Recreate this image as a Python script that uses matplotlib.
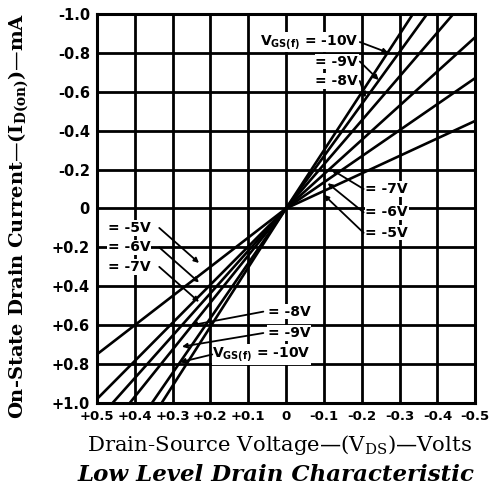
import numpy as np
import matplotlib.pyplot as plt

# gate voltages of the curves
vgs_labels = ['-5V', '-6V', '-7V', '-8V', '-9V', '-10V']
# drain current (mA) read at the frame edges, extended to V_DS = -0.5 and +0.5
i_at_neg = [-0.45, -0.67, -0.88, -1.13, -1.34, -1.49]
i_at_pos = [0.75, 0.98, 1.09, 1.21, 1.41, 1.52]

x_ticks = [0.5, 0.4, 0.3, 0.2, 0.1, 0, -0.1, -0.2, -0.3, -0.4, -0.5]
x_tick_labels = ['+0.5', '+0.4', '+0.3', '+0.2', '+0.1', '0',
                 '-0.1', '-0.2', '-0.3', '-0.4', '-0.5']
y_ticks = [-1.0, -0.8, -0.6, -0.4, -0.2, 0, 0.2, 0.4, 0.6, 0.8, 1.0]
y_tick_labels = ['-1.0', '-0.8', '-0.6', '-0.4', '-0.2', '0',
                 '+0.2', '+0.4', '+0.6', '+0.8', '+1.0']


def draw_curves(ax):
    for i_neg, i_pos in zip(i_at_neg, i_at_pos):
        ax.plot([0.5, 0, -0.5], [i_pos, 0, i_neg], color='black', lw=1.9,
                solid_capstyle='butt')


def draw_labels(ax):
    txt = dict(fontsize=10, fontweight='bold', color='black', family='DejaVu Sans')
    arrow = dict(arrowstyle='-|>', lw=1.3, color='black', mutation_scale=7,
                 shrinkA=0, shrinkB=0)

    # upper right group
    upper = [('$\\mathregular{V_{GS(f)}}$ = -10V', -0.855, -0.27, -0.80),
             ('= -9V', -0.755, -0.245, -0.66),
             ('= -8V', -0.655, -0.21, -0.57)]
    for text, y, ax_x, ax_y in upper:
        ax.text(-0.19, y, text, ha='right', va='center', **txt,
                bbox=dict(fc='white', ec='none', pad=0.5))
        ax.annotate('', xy=(ax_x, ax_y), xytext=(-0.195, y), arrowprops=arrow)

    # right group
    right = [('= -7V', -0.10, -0.12, -0.20),
             ('= -6V', 0.02, -0.11, -0.13),
             ('= -5V', 0.125, -0.10, -0.07)]
    for text, y, ax_x, ax_y in right:
        ax.text(-0.21, y, text, ha='left', va='center', **txt,
                bbox=dict(fc='white', ec='none', pad=0.5))
        ax.annotate('', xy=(ax_x, ax_y), xytext=(-0.205, y), arrowprops=arrow)

    # left group
    left = [('= -5V', 0.10, 0.23, 0.28),
            ('= -6V', 0.20, 0.23, 0.38),
            ('= -7V', 0.30, 0.23, 0.48)]
    for text, y, ax_x, ax_y in left:
        ax.text(0.47, y, text, ha='left', va='center', **txt,
                bbox=dict(fc='white', ec='none', pad=0.5))
        ax.annotate('', xy=(ax_x, ax_y), xytext=(0.335, y), arrowprops=arrow)

    # lower group
    lower = [('= -8V', 0.53, 0.25, 0.60),
             ('= -9V', 0.64, 0.275, 0.71),
             ('$\\mathregular{V_{GS(f)}}$ = -10V', 0.75, 0.28, 0.79)]
    for text, y, ax_x, ax_y in lower:
        ax.text(-0.065, y, text, ha='right', va='center', **txt,
                bbox=dict(fc='white', ec='none', pad=0.5))
    for (text, y, ax_x, ax_y), x0 in zip(lower, [0.06, 0.06, 0.195]):
        ax.annotate('', xy=(ax_x, ax_y), xytext=(x0, y), arrowprops=arrow)


def main():
    fig = plt.figure(figsize=(4.94, 4.94), dpi=100)
    ax = fig.add_axes([0.196, 0.184, 0.766, 0.788])

    draw_curves(ax)

    ax.set_xlim(0.5, -0.5)
    ax.set_ylim(1.0, -1.0)
    ax.set_xticks(x_ticks)
    ax.set_xticklabels(x_tick_labels, fontsize=9.5, fontweight='bold')
    ax.set_yticks(y_ticks)
    ax.set_yticklabels(y_tick_labels, fontsize=10.5, fontweight='bold')
    ax.tick_params(length=0, pad=5)
    ax.grid(True, color='black', lw=2)
    ax.set_axisbelow(True)
    for s in ax.spines.values():
        s.set_linewidth(2.2)

    draw_labels(ax)

    fig.text(0.565, 0.099, 'Drain-Source Voltage—($\\mathregular{V_{DS}}$)—Volts',
             ha='center', va='center', family='DejaVu Serif', fontsize=15.3)
    fig.text(0.037, 0.562, 'On-State Drain Current—($\\mathregular{I_{D(on)}}$)—mA',
             ha='center', va='center', rotation=90, family='DejaVu Serif',
             fontweight='bold', fontsize=14)
    fig.text(0.559, 0.038, 'Low Level Drain Characteristic', ha='center', va='center',
             family='DejaVu Serif', fontweight='bold', style='italic', fontsize=16.5)

    fig.savefig('out.png', dpi=100, facecolor='white')


if __name__ == "__main__":
    main()
